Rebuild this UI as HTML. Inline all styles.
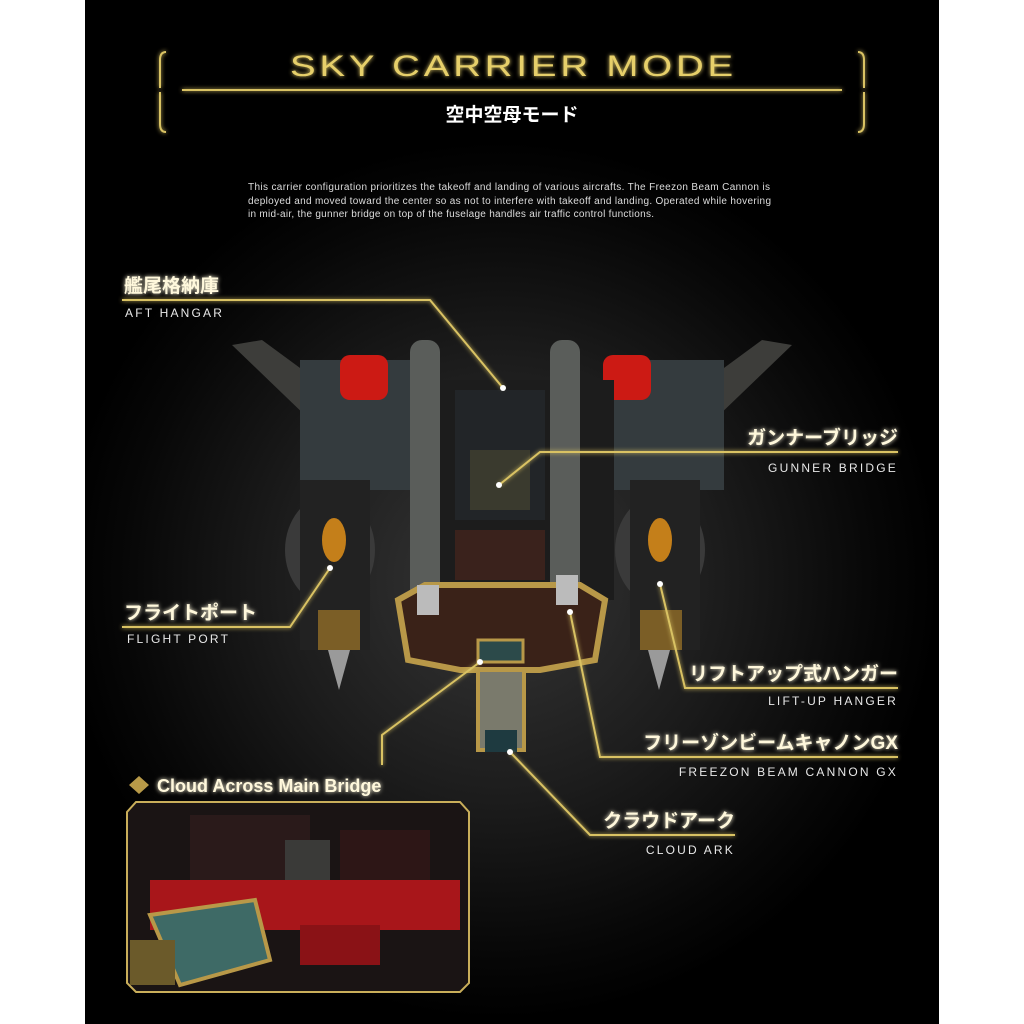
<!DOCTYPE html>
<html><head><meta charset="utf-8"><style>
html,body{margin:0;padding:0;background:#fff;}
body{width:1024px;height:1024px;position:relative;overflow:hidden;font-family:"Liberation Sans","Noto Sans CJK JP",sans-serif;}
</style></head><body>
<svg width="1024" height="1024" viewBox="0 0 1024 1024" xmlns="http://www.w3.org/2000/svg" style="position:absolute;left:0;top:0">
<defs>
<radialGradient id="bg" cx="500" cy="580" r="440" gradientUnits="userSpaceOnUse">
<stop offset="0" stop-color="#363636"/><stop offset="0.5" stop-color="#1c1c1c"/><stop offset="0.85" stop-color="#070707"/><stop offset="1" stop-color="#000"/>
</radialGradient>
<filter id="glow"><feGaussianBlur stdDeviation="2" result="b"/><feMerge><feMergeNode in="b"/><feMergeNode in="SourceGraphic"/></feMerge></filter>
</defs>
<rect x="85" y="0" width="854" height="1024" fill="url(#bg)"/>
<!-- title frame -->
<g stroke="#d9c263" fill="none" stroke-width="2" filter="url(#glow)">
<path d="M166 52 Q160 52 160 60 L160 88 M160 92 L160 124 Q160 132 166 132"/>
<path d="M858 52 Q864 52 864 60 L864 88 M864 92 L864 124 Q864 132 858 132"/>
<line x1="182" y1="90" x2="842" y2="90"/>
</g>
<text x="290" y="76" fill="#e6cf6a" font-size="30" font-family="Liberation Sans,sans-serif" filter="url(#glow)" textLength="447" lengthAdjust="spacingAndGlyphs" letter-spacing="3">SKY CARRIER MODE</text>
<text x="512" y="121" text-anchor="middle" fill="#fff" font-size="19" font-weight="bold">空中空母モード</text>
<g fill="#ddd" font-size="10">
<text x="248" y="190" textLength="522">This carrier configuration prioritizes the takeoff and landing of various aircrafts. The Freezon Beam Cannon is</text>
<text x="248" y="204" textLength="523">deployed and moved toward the center so as not to interfere with takeoff and landing. Operated while hovering</text>
<text x="248" y="217" textLength="406">in mid-air, the gunner bridge on top of the fuselage handles air traffic control functions.</text>
</g>
<!-- ship approximation -->
<g>
<polygon points="232,345 262,340 330,390 310,420" fill="#3d3d3a"/>
<polygon points="792,345 762,340 694,390 714,420" fill="#3d3d3a"/>
<rect x="300" y="360" width="120" height="130" fill="#343b3e"/>
<rect x="604" y="360" width="120" height="130" fill="#343b3e"/>
<rect x="340" y="355" width="48" height="45" rx="10" fill="#cc1a14"/>
<rect x="603" y="355" width="48" height="45" rx="10" fill="#cc1a14"/>
<rect x="410" y="380" width="204" height="220" fill="#1c1c1c"/>
<rect x="410" y="340" width="30" height="280" rx="12" fill="#5a5d5a"/>
<rect x="550" y="340" width="30" height="280" rx="12" fill="#5a5d5a"/>
<rect x="455" y="390" width="90" height="130" fill="#222528"/>
<rect x="470" y="450" width="60" height="60" fill="#3a3a2e"/>
<rect x="455" y="530" width="90" height="50" fill="#3a221c"/>
<ellipse cx="330" cy="550" rx="45" ry="55" fill="#3a3a3a"/>
<ellipse cx="660" cy="550" rx="45" ry="55" fill="#3a3a3a"/>
<rect x="300" y="480" width="70" height="170" fill="#222"/>
<rect x="630" y="480" width="70" height="170" fill="#222"/>
<ellipse cx="334" cy="540" rx="12" ry="22" fill="#c47f1a"/>
<ellipse cx="660" cy="540" rx="12" ry="22" fill="#c47f1a"/>
<rect x="318" y="610" width="42" height="40" fill="#7b5e26"/>
<rect x="640" y="610" width="42" height="40" fill="#7b5e26"/>
<polygon points="328,650 350,650 339,690" fill="#9a9a9a"/>
<polygon points="648,650 670,650 659,690" fill="#9a9a9a"/>
<polygon points="398,600 425,585 580,585 605,600 595,660 540,670 460,670 408,660" fill="#3a2218" stroke="#b89848" stroke-width="6"/>
<rect x="478" y="640" width="45" height="22" fill="#2c4a4a" stroke="#b89848" stroke-width="3"/>
<rect x="478" y="670" width="46" height="80" fill="#7a7a6c" stroke="#b89848" stroke-width="4"/>
<rect x="485" y="730" width="32" height="22" fill="#1e3a40"/>
<rect x="417" y="585" width="22" height="30" fill="#bbb"/>
<rect x="556" y="575" width="22" height="30" fill="#bbb"/>
</g>
<!-- leaders -->
<g stroke="#d9c263" stroke-width="2" fill="none" filter="url(#glow)">
<polyline points="122,300 430,300 503,388"/>
<polyline points="898,452 540,452 499,485"/>
<polyline points="122,627 290,627 330,568"/>
<polyline points="898,688 685,688 660,584"/>
<polyline points="898,757 600,757 570,612"/>
<polyline points="735,835 590,835 510,752"/>
<polyline points="382,765 382,735 480,662"/>
</g>
<g fill="#fff">
<circle cx="503" cy="388" r="3"/><circle cx="499" cy="485" r="3"/><circle cx="330" cy="568" r="3"/>
<circle cx="660" cy="584" r="3"/><circle cx="570" cy="612" r="3"/><circle cx="510" cy="752" r="3"/><circle cx="480" cy="662" r="3"/>
</g>
<g fill="#fff8dc" font-size="19" font-weight="bold" filter="url(#glow)">
<text x="124" y="292">艦尾格納庫</text>
<text x="898" y="444" text-anchor="end">ガンナーブリッジ</text>
<text x="124" y="619">フライトポート</text>
<text x="898" y="680" text-anchor="end">リフトアップ式ハンガー</text>
<text x="898" y="749" text-anchor="end">フリーゾンビームキャノンGX</text>
<text x="735" y="827" text-anchor="end">クラウドアーク</text>
<text x="157" y="792" font-size="18">Cloud Across Main Bridge</text>
</g>
<g fill="#e8e8e8" font-size="12" letter-spacing="2.2">
<text x="125" y="317">AFT HANGAR</text>
<text x="898" y="472" text-anchor="end">GUNNER BRIDGE</text>
<text x="127" y="643">FLIGHT PORT</text>
<text x="898" y="705" text-anchor="end">LIFT-UP HANGER</text>
<text x="898" y="776" text-anchor="end">FREEZON BEAM CANNON GX</text>
<text x="735" y="854" text-anchor="end">CLOUD ARK</text>
</g>
<polygon points="139,776 149,785 139,794 129,785" fill="#b89a48"/>
<!-- inset -->
<polygon points="136,802 460,802 469,812 469,983 460,992 136,992 127,983 127,812" fill="#1a1414" stroke="#c9ae5a" stroke-width="2"/>
<rect x="190" y="815" width="120" height="70" fill="#2a1a1a"/>
<rect x="285" y="840" width="45" height="80" fill="#3a3a38"/>
<rect x="150" y="880" width="310" height="50" fill="#a8161a"/>
<rect x="340" y="830" width="90" height="50" fill="#2d1616"/>
<polygon points="150,915 255,900 270,960 180,985" fill="#3e6a66" stroke="#b89848" stroke-width="4"/>
<rect x="130" y="940" width="45" height="45" fill="#6b5a2a"/>
<rect x="300" y="925" width="80" height="40" fill="#8a1216"/>
</svg>
</body></html>
